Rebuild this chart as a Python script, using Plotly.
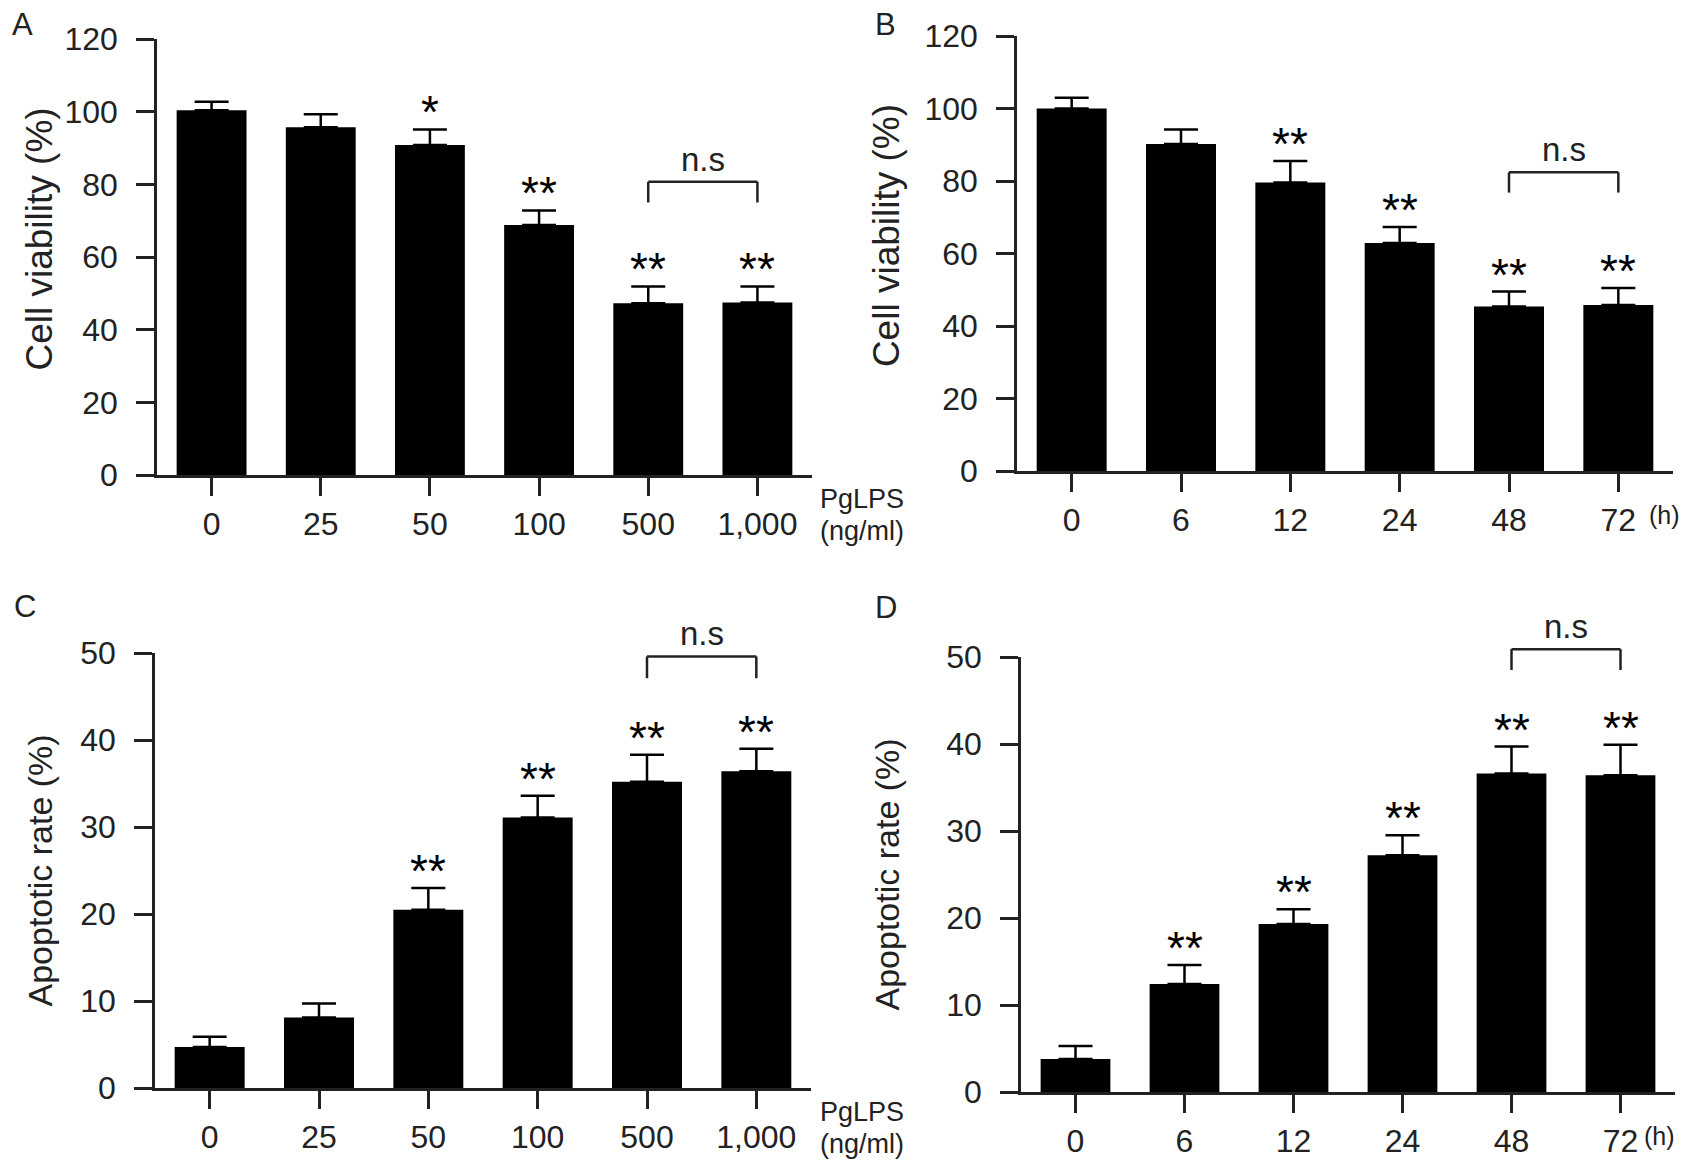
import plotly.graph_objects as go

# ---- data ----
dose_labels = ["0", "25", "50", "100", "500", "1,000"]
time_labels = ["0", "6", "12", "24", "48", "72"]

# A: cell viability vs PgLPS dose
via_dose = [100.4, 95.7, 90.8, 68.8, 47.3, 47.5]
via_dose_err = [2.3, 3.6, 4.3, 4.0, 4.6, 4.4]
via_dose_sig = ["", "", "*", "**", "**", "**"]

# B: cell viability vs time
via_time = [100.0, 90.2, 79.6, 62.9, 45.4, 45.8]
via_time_err = [3.0, 4.0, 5.9, 4.4, 4.1, 4.7]
via_time_sig = ["", "", "**", "**", "**", "**"]

# C: apoptotic rate vs dose
apo_dose = [4.7, 8.1, 20.5, 31.1, 35.2, 36.4]
apo_dose_err = [1.2, 1.6, 2.5, 2.5, 3.1, 2.6]
apo_dose_sig = ["", "", "**", "**", "**", "**"]

# D: apoptotic rate vs time
apo_time = [3.8, 12.4, 19.3, 27.2, 36.6, 36.4]
apo_time_err = [1.5, 2.2, 1.7, 2.3, 3.1, 3.5]
apo_time_sig = ["", "**", "**", "**", "**", "**"]

# n.s brackets (between 5th and 6th bars): top value, leg end value
ns_top = [80.7, 82.4, 49.6, 50.9]
ns_leg = [75.0, 76.8, 47.1, 48.5]

W, H = 1692, 1166
FONT = "Liberation Sans, Arial, sans-serif"
INK = "#222222"

panels = [
    dict(letter="A", cats=dose_labels, y=via_dose, err=via_dose_err, sig=via_dose_sig,
         ymax=120, dtick=20, title="Cell viability (%)", title_size=37, title_y=0.54,
         px=(157, 812), py=(39, 475), title_x=40, letter_xy=(10, 25), unit="dose"),
    dict(letter="B", cats=time_labels, y=via_time, err=via_time_err, sig=via_time_sig,
         ymax=120, dtick=20, title="Cell viability (%)", title_size=37, title_y=0.54,
         px=(1017, 1673), py=(36, 471), title_x=886, letter_xy=(873, 25), unit="time"),
    dict(letter="C", cats=dose_labels, y=apo_dose, err=apo_dose_err, sig=apo_dose_sig,
         ymax=50, dtick=10, title="Apoptotic rate (%)", title_size=34, title_y=0.5,
         px=(155, 811), py=(653, 1088), title_x=39, letter_xy=(12, 606), unit="dose"),
    dict(letter="D", cats=time_labels, y=apo_time, err=apo_time_err, sig=apo_time_sig,
         ymax=50, dtick=10, title="Apoptotic rate (%)", title_size=34, title_y=0.5,
         px=(1021, 1675), py=(657, 1092), title_x=886, letter_xy=(873, 607), unit="time"),
]

fig = go.Figure()
layout = dict(
    width=W, height=H, autosize=False,
    margin=dict(l=0, r=0, t=0, b=0, pad=0),
    paper_bgcolor="white", plot_bgcolor="white",
    showlegend=False, bargap=0.36,
    font=dict(family=FONT, color=INK, size=32),
)
annotations = []
shapes = []

for n, p in enumerate(panels):
    sx = "" if n == 0 else str(n + 1)
    xa, ya = "x" + sx, "y" + sx

    fig.add_trace(go.Bar(
        x=p["cats"], y=p["y"], xaxis=xa, yaxis=ya,
        marker=dict(color="black", line=dict(width=0)),
        error_y=dict(type="data", symmetric=False, array=p["err"],
                     arrayminus=[0] * len(p["err"]),
                     color="black", thickness=2.5, width=17),
        hoverinfo="skip",
    ))

    x0, x1 = p["px"]
    ytop, ybot = p["py"]
    layout["xaxis" + sx] = dict(
        domain=[x0 / W, x1 / W], anchor=ya, automargin=False,
        type="category", range=[-0.5, len(p["cats"]) - 0.5],
        showline=True, linecolor=INK, linewidth=2.5,
        ticks="outside", ticklen=18, tickwidth=2.5, tickcolor=INK,
        showgrid=False, zeroline=False, ticklabelstandoff=1,
        tickfont=dict(size=32, family=FONT, color=INK),
    )
    layout["yaxis" + sx] = dict(
        domain=[1 - ybot / H, 1 - ytop / H], anchor=xa, automargin=False,
        range=[0, p["ymax"]], tick0=0, dtick=p["dtick"],
        showline=True, linecolor=INK, linewidth=2.5,
        ticks="outside", ticklen=18, tickwidth=2.5, tickcolor=INK,
        showgrid=False, zeroline=False, ticklabelstandoff=12,
        tickfont=dict(size=32, family=FONT, color=INK),
    )

    # significance stars above the error bars
    for i, s in enumerate(p["sig"]):
        if s:
            annotations.append(dict(
                x=i, y=p["y"][i] + p["err"][i], xref=xa, yref=ya,
                text=s, showarrow=False, yanchor="middle", yshift=17,
                font=dict(size=46, family=FONT, color="black"),
            ))

    # n.s bracket between the last two bars
    top = ns_top[n] / p["ymax"]
    leg = ns_leg[n] / p["ymax"]
    line = dict(color=INK, width=2.5)
    yd = ya + " domain"
    shapes.append(dict(type="line", xref=xa, yref=yd, x0=4, x1=5, y0=top, y1=top, line=line))
    shapes.append(dict(type="line", xref=xa, yref=yd, x0=4, x1=4, y0=leg, y1=top, line=line))
    shapes.append(dict(type="line", xref=xa, yref=yd, x0=5, x1=5, y0=leg, y1=top, line=line))
    annotations.append(dict(
        x=4.5, y=top, xref=xa, yref=yd, text="n.s", showarrow=False,
        yanchor="bottom", yshift=2, font=dict(size=33, family=FONT, color=INK),
    ))

    # y-axis title
    annotations.append(dict(
        x=p["title_x"] / W, y=p["title_y"], xref="paper", yref=ya + " domain",
        text=p["title"], textangle=-90, showarrow=False,
        xanchor="center", yanchor="middle",
        font=dict(size=p["title_size"], family=FONT, color=INK),
    ))

    # panel letter
    lx, ly = p["letter_xy"]
    annotations.append(dict(
        x=lx / W, y=1 - ly / H, xref="paper", yref="paper", text=p["letter"],
        showarrow=False, xanchor="left", yanchor="middle",
        font=dict(size=31, family=FONT, color=INK),
    ))

    # unit label at the right end of the x axis
    if p["unit"] == "dose":
        annotations.append(dict(
            x=818 / W, y=1 - (ybot + 24) / H, xref="paper", yref="paper",
            text="PgLPS", showarrow=False, xanchor="left", yanchor="middle",
            font=dict(size=27, family=FONT, color=INK),
        ))
        annotations.append(dict(
            x=818 / W, y=1 - (ybot + 56) / H, xref="paper", yref="paper",
            text="(ng/ml)", showarrow=False, xanchor="left", yanchor="middle",
            font=dict(size=27, family=FONT, color=INK),
        ))
    else:
        shift = 26 if n == 1 else 33
        annotations.append(dict(
            x=(x1 - shift) / W, y=1 - (ybot + 44) / H, xref="paper", yref="paper",
            text="(h)", showarrow=False, xanchor="left", yanchor="middle",
            font=dict(size=25, family=FONT, color=INK),
        ))

layout["annotations"] = annotations
layout["shapes"] = shapes
fig.update_layout(**layout)

fig.write_html("out.html",
               config={"displayModeBar": False},
               post_script="document.body.style.margin='0';"
                           "document.body.style.overflow='hidden';")
